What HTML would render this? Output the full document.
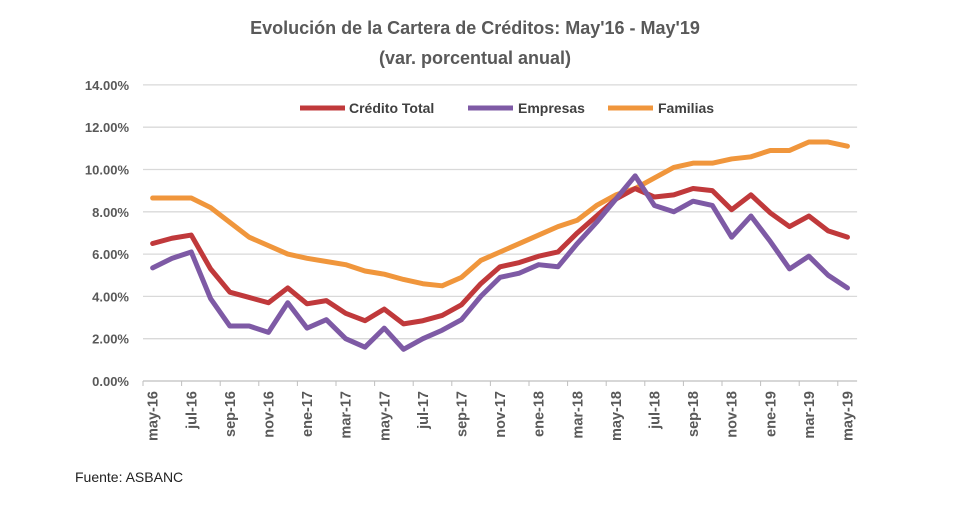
<!DOCTYPE html>
<html><head><meta charset="utf-8"><style>
body{margin:0;background:#fff;width:980px;height:510px;overflow:hidden;font-family:"Liberation Sans",sans-serif}
</style></head><body>
<svg width="980" height="510">
<text x="475" y="34" text-anchor="middle" font-size="18" font-weight="bold" fill="#595959">Evolución de la Cartera de Créditos: May'16 - May'19</text>
<text x="475" y="64" text-anchor="middle" font-size="18" font-weight="bold" fill="#595959">(var. porcentual anual)</text>
<g id="grid"></g><g id="lines"></g><g id="axes"></g>
<g>
<line x1="300" y1="108" x2="345" y2="108" stroke="#c0393b" stroke-width="5"/>
<text x="349" y="113" font-size="14" font-weight="bold" fill="#404040">Crédito Total</text>
<line x1="468" y1="108" x2="513" y2="108" stroke="#7e5aa5" stroke-width="5"/>
<text x="518" y="113" font-size="14" font-weight="bold" fill="#404040">Empresas</text>
<line x1="608" y1="108" x2="653" y2="108" stroke="#f0963c" stroke-width="5"/>
<text x="658" y="113" font-size="14" font-weight="bold" fill="#404040">Familias</text>
</g>
<text x="75" y="482" font-size="14" fill="#222">Fuente: ASBANC</text>
</svg>
<script>
const months=["may-16","jun-16","jul-16","ago-16","sep-16","oct-16","nov-16","dic-16","ene-17","feb-17","mar-17","abr-17","may-17","jun-17","jul-17","ago-17","sep-17","oct-17","nov-17","dic-17","ene-18","feb-18","mar-18","abr-18","may-18","jun-18","jul-18","ago-18","sep-18","oct-18","nov-18","dic-18","ene-19","feb-19","mar-19","abr-19","may-19"];
const credito=[6.5,6.75,6.9,5.3,4.2,3.95,3.7,4.4,3.65,3.8,3.2,2.85,3.4,2.7,2.85,3.1,3.6,4.6,5.4,5.6,5.9,6.1,7.0,7.8,8.6,9.1,8.7,8.8,9.1,9.0,8.1,8.8,7.95,7.3,7.8,7.1,6.8];
const empresas=[5.35,5.8,6.1,3.9,2.6,2.6,2.3,3.7,2.5,2.9,2.0,1.6,2.5,1.5,2.0,2.4,2.9,4.0,4.9,5.1,5.5,5.4,6.5,7.5,8.6,9.7,8.3,8.0,8.5,8.3,6.8,7.8,6.6,5.3,5.9,5.0,4.4];
const familias=[8.65,8.65,8.65,8.2,7.5,6.8,6.4,6.0,5.8,5.65,5.5,5.2,5.05,4.8,4.6,4.5,4.9,5.7,6.1,6.5,6.9,7.3,7.6,8.3,8.8,9.1,9.6,10.1,10.3,10.3,10.5,10.6,10.9,10.9,11.3,11.3,11.1];
const yTicks=[0,2,4,6,8,10,12,14];
const NS="http://www.w3.org/2000/svg";
const x0=143,step=19.3,y0=381,yPer=21.15;
const X=i=>x0+step*(i+0.5), Y=v=>y0-v*yPer;
function mk(t,a,p){const e=document.createElementNS(NS,t);for(const k in a)e.setAttribute(k,a[k]);p.appendChild(e);return e;}
const grid=document.getElementById('grid'),axes=document.getElementById('axes'),lines=document.getElementById('lines');
yTicks.forEach(v=>{
 if(v>0){const g=mk('line',{x1:x0,x2:x0+step*months.length,y1:Y(v),y2:Y(v),stroke:'#d9d9d9','stroke-width':1.3},grid);
 
 }
 const t=mk('text',{x:129,y:Y(v)+5,'text-anchor':'end','font-size':13,'font-weight':'bold',fill:'#595959'},axes);
 t.textContent=v.toFixed(2)+'%';
 
 
});
const ax=mk('line',{x1:x0,x2:x0+step*months.length,y1:y0,y2:y0,stroke:'#bfbfbf','stroke-width':1.3},axes);


months.forEach((m,i)=>{
 if(i%2==0){
  const tk=mk('line',{x1:x0+step*i,x2:x0+step*i,y1:y0,y2:y0+5,stroke:'#bfbfbf'},axes);
  
  
  const t=mk('text',{transform:`translate(${X(i)+5},391) rotate(-90)`,'text-anchor':'end','font-size':14.5,'font-weight':'bold',fill:'#595959'},axes);
  t.textContent=m;
  
  
 }
});
[[familias,'#f0963c','familias-line'],[credito,'#c0393b','credito-total-line'],[empresas,'#7e5aa5','empresas-line']].forEach(([d,c,n])=>{
 const p=mk('polyline',{points:d.map((v,i)=>X(i)+','+Y(v)).join(' '),fill:'none',stroke:c,'stroke-width':5,'stroke-linejoin':'round','stroke-linecap':'round'},lines);
 
 
});
</script>
</body></html>
